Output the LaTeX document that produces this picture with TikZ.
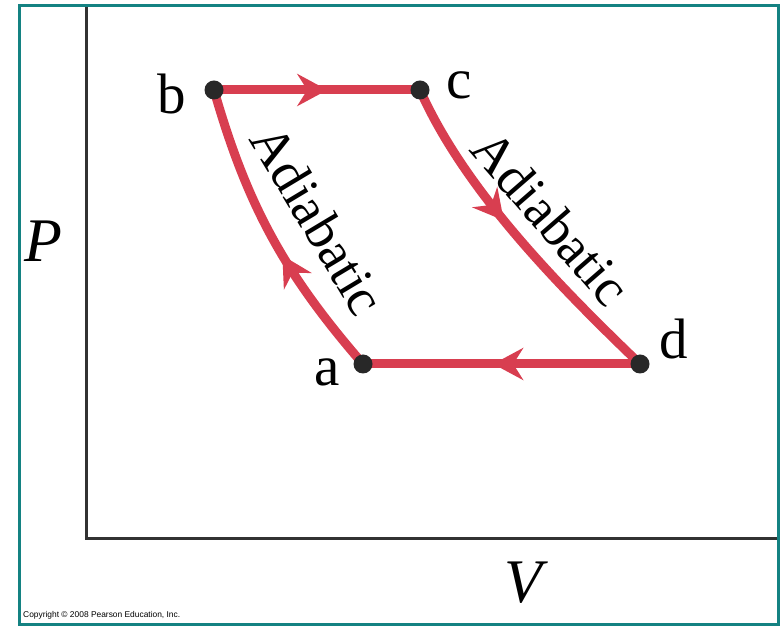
\documentclass[tikz,border=0pt]{standalone}
\usepackage{fontspec}
\setmainfont{Liberation Serif}
\newfontfamily\copyfont{Liberation Sans}
\usetikzlibrary{arrows.meta,decorations.markings}
\definecolor{cyclered}{RGB}{216,62,80}
\definecolor{frameteal}{RGB}{20,130,130}
\definecolor{axisgray}{RGB}{50,50,50}
\definecolor{dotgray}{RGB}{40,40,40}

\begin{document}
\begin{tikzpicture}[x=1pt, y=1pt,
  cyc/.style={draw=cyclered, line width=9pt},
  flow/.style={postaction={decorate}, decoration={markings,
      mark=at position #1 with {\arrow[cyclered]{Stealth[length=30pt, width=32pt, inset=10pt]}}}},
  dot/.style={circle, fill=dotgray, inner sep=0pt, minimum size=19pt},
  axisline/.style={draw=axisgray, line width=3.5pt},
  lbl/.style={font=\fontsize{57}{60}\selectfont, inner sep=0pt},
  adia/.style={font=\fontsize{54}{58}\selectfont, inner sep=0pt},
  axislbl/.style={font=\fontsize{62}{66}\selectfont\itshape, inner sep=0pt}
]
  \useasboundingbox (0,0) rectangle (783,626);
  \draw[frameteal, line width=3pt] (19,620.5) rectangle (778.5,1.5);

  \coordinate (ptop) at (86.7,619);
  \coordinate (vend) at (777,87.3);
  \draw[axisline] (ptop) |- (vend);

  \coordinate (a) at (363,262);
  \coordinate (b) at (214,536);
  \coordinate (c) at (420,536);
  \coordinate (d) at (640,262);

  \draw[cyc, flow=0.43] (a) .. controls (284,353) and (247,421) .. (b);
  \draw[cyc, flow=0.55] (b) -- (c);
  \draw[cyc, flow=0.44] (c) .. controls (465,434.5) and (561,338) .. (d);
  \draw[cyc, flow=0.53] (d) -- (a);

  \foreach \p in {a,b,c,d}
    \node[dot] (dot\p) at (\p) {};

  \node[lbl] (lbla) at (327,254) {a};
  \node[lbl] (lblb) at (172,532) {b};
  \node[lbl] (lblc) at (459,541) {c};
  \node[lbl] (lbld) at (674,287) {d};

  \node[adia, rotate=-59] (adiaab) at (318,406) {Adiabatic};
  \node[adia, rotate=-49] (adiacd) at (551,408) {Adiabatic};

  \node[axislbl] (plbl) at (43,385) {P};
  \node[axislbl] (vlbl) at (523,43) {V};

  \node[anchor=west, inner sep=0pt, font=\copyfont\fontsize{8.4}{10}\selectfont] (copy) at (23,11)
    {Copyright © 2008 Pearson Education, Inc.};
\end{tikzpicture}
\end{document}
